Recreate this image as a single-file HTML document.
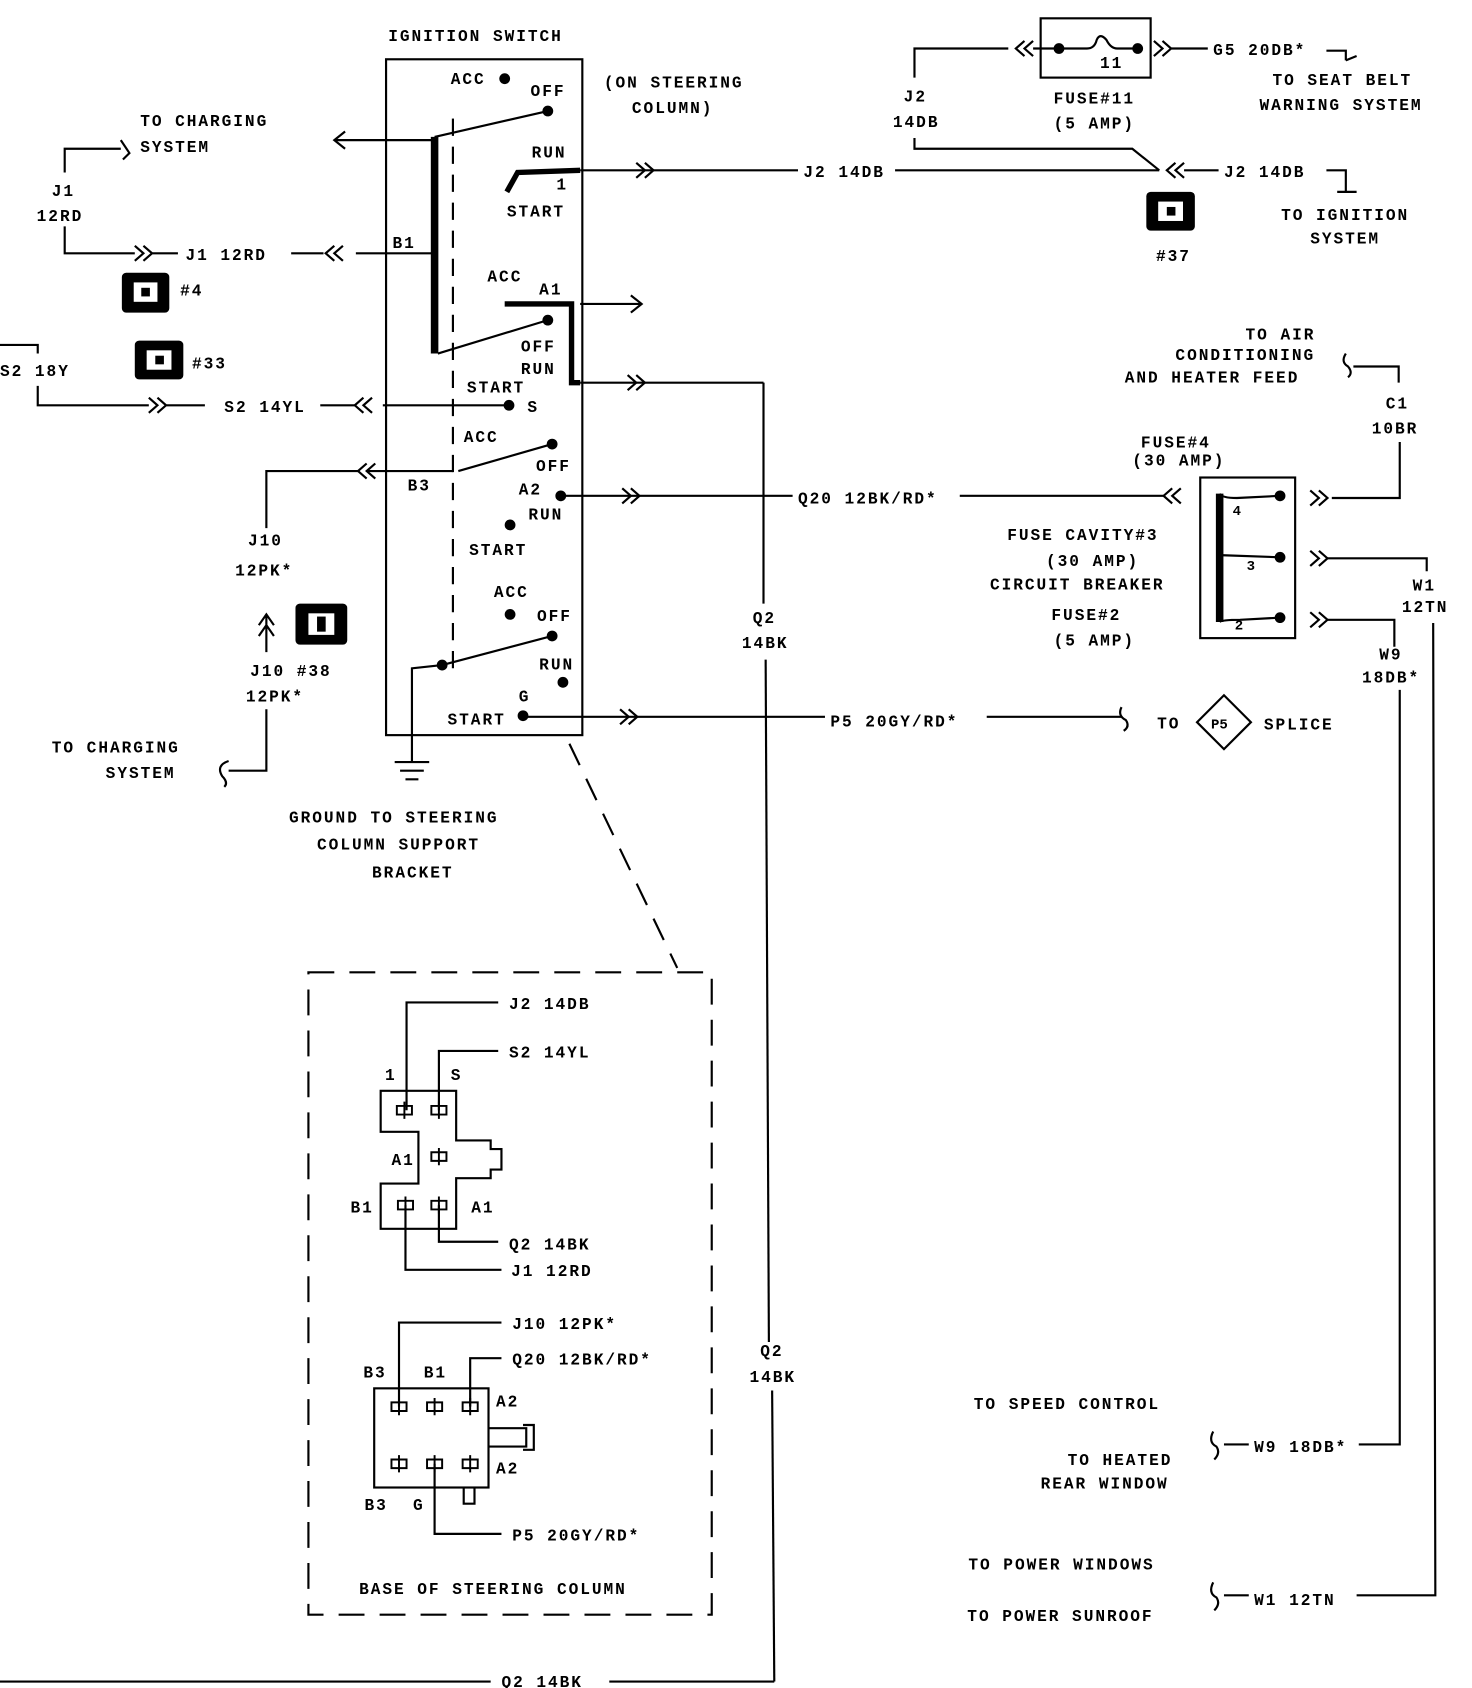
<!DOCTYPE html>
<html><head><meta charset="utf-8"><style>
html,body{margin:0;padding:0;background:#fff;}
svg{display:block}
text{font-family:"Liberation Mono",monospace;font-weight:bold;font-size:15px;letter-spacing:1.8px;fill:#000}
</style></head><body>
<svg width="1472" height="1688" viewBox="0 0 1365 1566" preserveAspectRatio="none" xmlns="http://www.w3.org/2000/svg">
<g fill="none" stroke="#000" stroke-width="2">
<rect x="358" y="55" width="182" height="627"/>
<line x1="420" y1="110" x2="420" y2="620" stroke-dasharray="16,10"/>
<line x1="403" y1="127" x2="403" y2="328" stroke-width="7"/>
<line x1="403" y1="127" x2="508" y2="103"/>
<path d="M470,178 L480,160 L538,158" stroke-width="5"/>
<line x1="403" y1="130" x2="310" y2="130"/><path d="M320,122 L310,130 L320,138"/>
<line x1="538" y1="158" x2="740" y2="158"/>
<path d="M590,151 L598,158 L590,165 M598,151 L606,158 L598,165"/>
<line x1="830" y1="158" x2="1075" y2="158"/>
<path d="M848,128 L848,138 L1050,138 L1075,158"/>
<line x1="403" y1="235" x2="330" y2="235"/>
<path d="M318,228 L310,235 L318,242 M310,228 L302,235 L310,242"/>
<line x1="270" y1="235" x2="300" y2="235"/>
<path d="M60,210 L60,235 L125,235 M125,228 L133,235 L125,242 M133,228 L141,235 L133,242 M141,235 L165,235"/>
<path d="M60,160 L60,138 L112,138 M112,130 L120,142 L114,148"/>
<path d="M468,282 L530,282 L530,355 L538,355" stroke-width="5"/>
<line x1="538" y1="282" x2="595" y2="282"/><path d="M585,274 L595,282 L585,290"/>
<line x1="406" y1="328" x2="508" y2="297"/>
<line x1="538" y1="355" x2="708" y2="355"/>
<path d="M582,348 L590,355 L582,362 M590,348 L598,355 L590,362"/>
<line x1="708" y1="355" x2="708" y2="560"/>
<line x1="710" y1="612" x2="713" y2="1245"/>
<line x1="716" y1="1290" x2="718" y2="1560"/>
<line x1="718" y1="1560" x2="565" y2="1560"/>
<line x1="455" y1="1560" x2="0" y2="1560"/>
<line x1="472" y1="376" x2="355" y2="376"/>
<path d="M345,369 L337,376 L345,383 M337,369 L329,376 L337,383"/>
<line x1="297" y1="376" x2="329" y2="376"/>
<path d="M35,358 L35,376 L138,376 M138,369 L146,376 L138,383 M146,369 L154,376 L146,383 M154,376 L190,376"/>
<path d="M0,320 L35,320 L35,328"/>
<line x1="425" y1="437" x2="512" y2="412"/>
<line x1="420" y1="437" x2="340" y2="437"/>
<path d="M348,430 L340,437 L348,444 M340,430 L332,437 L340,444"/>
<path d="M332,437 L247,437 L247,490"/>
<line x1="520" y1="460" x2="735" y2="460"/>
<path d="M577,453 L585,460 L577,467 M585,453 L593,460 L585,467"/>
<line x1="890" y1="460" x2="1080" y2="460"/>
<path d="M1095,453 L1087,460 L1095,467 M1087,453 L1079,460 L1087,467"/>
<path d="M240,580 L247,570 L254,580 M240,590 L247,580 L254,590 M247,570 L247,605"/>
<path d="M247,658 L247,715 L212,715"/>
<path d="M212,706 Q200,710 206,720 Q212,726 208,730"/>
<line x1="410" y1="617" x2="512" y2="590"/>
<path d="M410,617 L382,620 L382,706"/>
<path d="M366,707 L398,707 M371,715 L393,715 M376,723 L388,723"/>
<line x1="485" y1="665" x2="765" y2="665"/>
<path d="M575,658 L583,665 L575,672 M583,658 L591,665 L583,672"/>
<line x1="915" y1="665" x2="1040" y2="665"/>
<path d="M1040,656 Q1036,664 1044,668 Q1048,674 1042,678"/>
<path d="M1135,645 L1160,670 L1135,695 L1110,670 Z"/>
<line x1="528" y1="690" x2="628" y2="898" stroke-dasharray="22,14"/>
<rect x="965" y="17" width="102" height="55"/>
<path d="M848,72 L848,45 L935,45"/>
<path d="M950,38 L942,45 L950,52 M958,38 L950,45 L958,52"/>
<path d="M958,45 L982,45 M982,45 L1008,45 Q1015,45 1017,37 Q1020,30 1026,37 Q1030,45 1036,45 L1055,45"/>
<path d="M1070,38 L1078,45 L1070,52 M1078,38 L1086,45 L1078,52 M1086,45 L1120,45"/>
<path d="M1230,47 L1248,47 L1248,56 M1248,56 L1258,52"/>
<path d="M1090,151 L1082,158 L1090,165 M1098,151 L1090,158 L1098,165 M1098,158 L1130,158"/>
<path d="M1230,158 L1248,158 L1248,178 M1240,178 L1258,178"/>
<path d="M1248,328 Q1243,336 1250,340 Q1255,346 1250,350"/>
<path d="M1255,340 L1297,340 L1297,355"/>
<path d="M1298,410 L1298,462 L1235,462"/>
<rect x="1113" y="443" width="88" height="149"/>
<path d="M1131,458 L1131,577" stroke-width="7"/>
<path d="M1131,458 Q1133,462 1147,462 L1187,460 M1131,515 L1187,517 M1131,577 Q1133,575 1150,575 L1187,573"/>
<path d="M1215,455 L1223,462 L1215,469 M1223,455 L1231,462 L1223,469"/>
<path d="M1215,511 L1223,518 L1215,525 M1223,511 L1231,518 L1223,525"/>
<path d="M1215,568 L1223,575 L1215,582 M1223,568 L1231,575 L1223,582"/>
<path d="M1231,518 L1323,518 L1323,530"/>
<path d="M1231,575 L1293,575 L1293,600"/>
<path d="M1329,578 L1331,1480 L1258,1480"/>
<path d="M1298,640 L1298,1340 L1260,1340"/>
<path d="M1135,1340 L1158,1340 M1125,1328 Q1120,1338 1128,1342 Q1132,1348 1126,1354"/>
<path d="M1135,1480 L1158,1480 M1125,1468 Q1120,1478 1128,1482 Q1132,1488 1126,1494"/>
<rect x="286" y="902" width="374" height="596" stroke-dasharray="24,14"/>
<path d="M353,1012 L423,1012 L423,1058 L455,1058 L455,1066 L465,1066 L465,1085 L455,1085 L455,1093 L423,1093 L423,1140 L353,1140 L353,1098 L388,1098 L388,1050 L353,1050 Z"/>
<path d="M377,1030 L377,930 L462,930 M407,1030 L407,975 L462,975 M407,1118 L407,1152 L462,1152 M376,1118 L376,1178 L465,1178"/>
<rect x="347" y="1288" width="106" height="92"/>
<path d="M453,1325 L488,1325 L488,1342 L453,1342 M485,1322 L495,1322 L495,1345 L485,1345 M430,1380 L430,1395 L440,1395 L440,1380"/>
<path d="M370,1305 L370,1227 L465,1227 M436,1305 L436,1260 L465,1260 M403,1358 L403,1423 L465,1423"/>
</g>
<g fill="none" stroke="#000" stroke-width="1.8">
<path d="M375,1022 v16 M368,1026 h14 v8 h-14 z M407,1022 v16 M400,1026 h14 v8 h-14 z M407,1065 v16 M400,1069 h14 v8 h-14 z M376,1110 v16 M369,1114 h14 v8 h-14 z M407,1110 v16 M400,1114 h14 v8 h-14 z"/>
<path d="M370,1297 v16 M363,1301 h14 v8 h-14 z M403,1297 v16 M396,1301 h14 v8 h-14 z M436,1297 v16 M429,1301 h14 v8 h-14 z M370,1350 v16 M363,1354 h14 v8 h-14 z M403,1350 v16 M396,1354 h14 v8 h-14 z M436,1350 v16 M429,1354 h14 v8 h-14 z"/>
</g>
<g fill="#000">
<circle cx="468" cy="73" r="5"/><circle cx="508" cy="103" r="5"/>
<circle cx="472" cy="376" r="5"/><circle cx="508" cy="297" r="5"/>
<circle cx="512" cy="412" r="5"/><circle cx="520" cy="460" r="5"/><circle cx="473" cy="487" r="5"/>
<circle cx="473" cy="570" r="5"/><circle cx="512" cy="590" r="5"/><circle cx="522" cy="633" r="5"/><circle cx="410" cy="617" r="5"/><circle cx="485" cy="664" r="5"/>
<circle cx="982" cy="45" r="5"/><circle cx="1055" cy="45" r="5"/>
<circle cx="1187" cy="460" r="5"/><circle cx="1187" cy="517" r="5"/><circle cx="1187" cy="573" r="5"/>
<rect x="113" y="253" width="44" height="37" rx="4"/><rect x="125" y="316" width="45" height="36" rx="4"/>
<rect x="1063" y="178" width="45" height="36" rx="4"/><rect x="274" y="560" width="48" height="38" rx="4"/>
</g>
<g fill="#fff">
<rect x="124" y="262" width="22" height="18"/><rect x="136" y="325" width="23" height="18"/>
<rect x="1074" y="187" width="23" height="18"/><rect x="286" y="569" width="24" height="20"/>
</g>
<g fill="#000"><rect x="131" y="267" width="8" height="8"/><rect x="144" y="330" width="8" height="8"/><rect x="1082" y="192" width="8" height="8"/><rect x="294" y="572" width="8" height="14"/></g>
<text x="360" y="38">IGNITION SWITCH</text>
<text x="560" y="81">(ON STEERING</text><text x="586" y="105">COLUMN)</text>
<text x="418" y="78">ACC</text><text x="492" y="89">OFF</text><text x="493" y="146">RUN</text><text x="516" y="176">1</text><text x="470" y="201">START</text>
<text x="130" y="117">TO CHARGING</text><text x="130" y="141">SYSTEM</text>
<text x="48" y="182">J1</text><text x="34" y="205">12RD</text>
<text x="172" y="241">J1 12RD</text><text x="364" y="230">B1</text>
<text x="167" y="274">#4</text><text x="178" y="342">#33</text>
<text x="745" y="164">J2 14DB</text>
<text x="452" y="261">ACC</text><text x="500" y="273">A1</text><text x="483" y="326">OFF</text><text x="483" y="347">RUN</text><text x="433" y="364">START</text><text x="489" y="382">S</text>
<text x="0" y="349">S2 18Y</text><text x="208" y="382">S2 14YL</text>
<text x="430" y="410">ACC</text><text x="497" y="437">OFF</text><text x="378" y="455">B3</text><text x="481" y="459">A2</text><text x="490" y="482">RUN</text><text x="435" y="515">START</text>
<text x="740" y="467">Q20 12BK/RD*</text>
<text x="230" y="506">J10</text><text x="218" y="534">12PK*</text>
<text x="232" y="627">J10 #38</text><text x="228" y="651">12PK*</text>
<text x="48" y="698">TO CHARGING</text><text x="98" y="722">SYSTEM</text>
<text x="458" y="554">ACC</text><text x="498" y="576">OFF</text><text x="500" y="621">RUN</text><text x="481" y="651">G</text><text x="415" y="672">START</text>
<text x="698" y="578">Q2</text><text x="688" y="601">14BK</text>
<text x="770" y="674">P5 20GY/RD*</text><text x="1073" y="676">TO</text>
<text x="1123" y="676" style="font-size:13px;letter-spacing:0">P5</text><text x="1172" y="677">SPLICE</text>
<text x="268" y="763">GROUND TO STEERING</text><text x="294" y="788">COLUMN SUPPORT</text><text x="345" y="814">BRACKET</text>
<text x="1020" y="63">11</text>
<text x="977" y="96">FUSE#11</text><text x="977" y="119">(5 AMP)</text>
<text x="838" y="94">J2</text><text x="828" y="118">14DB</text>
<text x="1125" y="51">G5 20DB*</text>
<text x="1180" y="79">TO SEAT BELT</text><text x="1168" y="102">WARNING SYSTEM</text>
<text x="1135" y="164">J2 14DB</text>
<text x="1188" y="204">TO IGNITION</text><text x="1215" y="226">SYSTEM</text>
<text x="1072" y="242">#37</text>
<text x="1155" y="315">TO AIR</text><text x="1090" y="334">CONDITIONING</text><text x="1043" y="355">AND HEATER FEED</text>
<text x="1285" y="379">C1</text><text x="1272" y="402">10BR</text>
<text x="1058" y="415">FUSE#4</text><text x="1050" y="432">(30 AMP)</text>
<text x="1143" y="478" style="font-size:13px">4</text><text x="1156" y="529" style="font-size:13px">3</text><text x="1145" y="584" style="font-size:13px">2</text>
<text x="934" y="501">FUSE CAVITY#3</text><text x="970" y="525">(30 AMP)</text><text x="918" y="547">CIRCUIT BREAKER</text>
<text x="975" y="575">FUSE#2</text><text x="977" y="599">(5 AMP)</text>
<text x="1310" y="548">W1</text><text x="1300" y="568">12TN</text>
<text x="1279" y="612">W9</text><text x="1263" y="633">18DB*</text>
<text x="903" y="1307">TO SPEED CONTROL</text>
<text x="990" y="1359">TO HEATED</text><text x="965" y="1381">REAR WINDOW</text>
<text x="1163" y="1347">W9 18DB*</text>
<text x="898" y="1456">TO POWER WINDOWS</text><text x="897" y="1504">TO POWER SUNROOF</text>
<text x="1163" y="1489">W1 12TN</text>
<text x="705" y="1258">Q2</text><text x="695" y="1282">14BK</text>
<text x="465" y="1565">Q2 14BK</text>
<text x="472" y="936">J2 14DB</text><text x="472" y="981">S2 14YL</text>
<text x="357" y="1002">1</text><text x="418" y="1002">S</text>
<text x="363" y="1081">A1</text><text x="325" y="1125">B1</text><text x="437" y="1125">A1</text>
<text x="472" y="1159">Q2 14BK</text><text x="474" y="1184">J1 12RD</text>
<text x="475" y="1233">J10 12PK*</text><text x="475" y="1266">Q20 12BK/RD*</text>
<text x="337" y="1278">B3</text><text x="393" y="1278">B1</text>
<text x="460" y="1305">A2</text><text x="460" y="1367">A2</text>
<text x="338" y="1401">B3</text><text x="383" y="1401">G</text>
<text x="475" y="1429">P5 20GY/RD*</text>
<text x="333" y="1479">BASE OF STEERING COLUMN</text>
</svg>
</body></html>
